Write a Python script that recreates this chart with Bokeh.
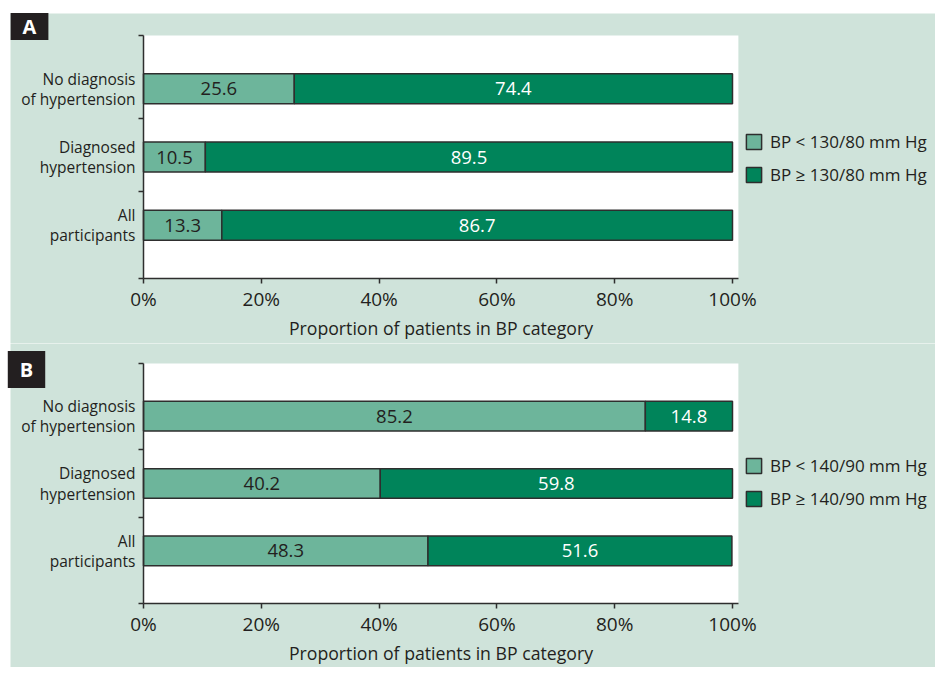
from bokeh.plotting import figure
from bokeh.models import (ColumnDataSource, Range1d, FixedTicker, Legend,
                          LegendItem, Label, LinearAxis, BoxAnnotation)
from bokeh.layouts import column
from bokeh.embed import file_html
from bokeh.resources import INLINE
from bokeh.core.properties import value

# ---- data ----
categories = ["No diagnosis\nof hypertension", "Diagnosed\nhypertension", "All\nparticipants"]
a_low = [25.6, 10.5, 13.3]
a_high = [74.4, 89.5, 86.7]
b_low = [85.2, 40.2, 48.3]
b_high = [14.8, 59.8, 51.6]
a_series = ["BP < 130/80 mm Hg", "BP \u2265 130/80 mm Hg"]
b_series = ["BP < 140/90 mm Hg", "BP \u2265 140/90 mm Hg"]
x_ticks = [0, 20, 40, 60, 80, 100]
x_tick_labels = ["0%", "20%", "40%", "60%", "80%", "100%"]
x_title = "Proportion of patients in BP category"

# ---- style / layout constants (pixels) ----
BG = "#cfe3da"
LIGHT = "#6db59b"
DARK = "#00845a"
EDGE = "#2e2e2e"
TXT = "#231f20"
FONT = "Open Sans"
W = 935
PX0, PX100 = 143, 732          # canvas x of 0 % and 100 %
X_MAX = 101.0                   # right edge of the white plot area
Y_MIN, Y_MAX = 0.22, 3.78       # vertical extent of the white plot area
XS = 100.0 / (PX100 - PX0)      # data units per pixel
X_START = -PX0 * XS
X_END = (W - PX0) * XS


def make_panel(letter, low, high, series, h, top_px, bot_px, box_c, box_pad,
               sep_ticks, bg_top, legend_vy):
    k = (Y_MAX - Y_MIN) / (bot_px - top_px)
    y_start = Y_MIN - (h - bot_px) * k
    y_end = Y_MAX + top_px * k

    def px_x(px):
        return X_START + px * XS

    def px_y(py):
        return y_end - py * k

    n = len(categories)
    ys = [n - i for i in range(n)]
    src = ColumnDataSource(dict(
        y=ys,
        l0=[0] * n,
        r0=low,
        l1=low,
        r1=[a + b for a, b in zip(low, high)],
        m0=[v / 2 for v in low],
        m1=[a + b / 2 for a, b in zip(low, high)],
        t0=[f"{v:.1f}" for v in low],
        t1=[f"{v:.1f}" for v in high],
    ))
    p = figure(width=W, height=h, x_range=Range1d(X_START, X_END),
               y_range=Range1d(y_start, y_end), output_backend="svg",
               toolbar_location=None, x_axis_type=None, y_axis_type=None,
               min_border=0, min_border_left=0, min_border_right=0,
               min_border_top=0, min_border_bottom=0,
               background_fill_color="white", border_fill_color="white",
               outline_line_color=None)
    p.title.visible = False
    p.grid.visible = False

    green = BoxAnnotation(left=px_x(10), right=X_END + 10, top=px_y(bg_top),
                          bottom=y_start - 10, fill_color=BG, fill_alpha=1,
                          line_alpha=0, level="underlay")
    white = BoxAnnotation(left=0, right=X_MAX, top=Y_MAX, bottom=Y_MIN,
                          fill_color="white", fill_alpha=1, line_alpha=0,
                          level="underlay")
    p.add_layout(green)
    p.add_layout(white)

    r_low = p.hbar(y="y", left="l0", right="r0", height=0.44, source=src,
                   fill_color=LIGHT, line_color=EDGE, line_width=1.5)
    r_high = p.hbar(y="y", left="l1", right="r1", height=0.44, source=src,
                    fill_color=DARK, line_color=EDGE, line_width=1.5)
    p.text(x="m0", y="y", text="t0", source=src, text_align="center",
           text_baseline="middle", text_font=value(FONT), text_font_size="18.5px",
           text_color=TXT)
    p.text(x="m1", y="y", text="t1", source=src, text_align="center",
           text_baseline="middle", text_font=value(FONT), text_font_size="18.5px",
           text_color="white")

    xa = LinearAxis(fixed_location=Y_MIN, bounds=(0, X_MAX),
                    ticker=FixedTicker(ticks=x_ticks))
    xa.major_label_overrides = {t: s for t, s in zip(x_ticks, x_tick_labels)}
    xa.major_tick_out = 5
    xa.major_tick_in = 0
    xa.minor_tick_out = 0
    xa.minor_tick_in = 0
    xa.axis_line_color = EDGE
    xa.axis_line_width = 1.5
    xa.major_tick_line_color = EDGE
    xa.major_tick_line_width = 1.5
    xa.major_label_text_font = FONT
    xa.major_label_text_font_size = "19px"
    xa.major_label_text_color = TXT
    xa.major_label_standoff = 2
    xa.axis_label = x_title
    xa.axis_label_text_font = FONT
    xa.axis_label_text_font_size = "17.7px"
    xa.axis_label_text_font_style = "normal"
    xa.axis_label_text_color = TXT
    xa.axis_label_standoff = 1
    p.add_layout(xa, "below")

    ya = LinearAxis(fixed_location=0, bounds=(Y_MIN, Y_MAX),
                    ticker=FixedTicker(ticks=ys, minor_ticks=sep_ticks))
    overrides = {}
    for yv, c in zip(ys, categories):
        overrides[yv] = c
        overrides[str(yv)] = c
    ya.major_label_overrides = overrides
    ya.major_tick_out = 0
    ya.major_tick_in = 0
    ya.minor_tick_out = 5
    ya.minor_tick_in = 0
    ya.minor_tick_line_color = EDGE
    ya.minor_tick_line_width = 1.5
    ya.axis_line_color = EDGE
    ya.axis_line_width = 1.5
    ya.major_label_text_font = FONT
    ya.major_label_text_font_size = "15.5px"
    ya.major_label_text_line_height = 0.93
    ya.major_label_text_color = TXT
    ya.major_label_standoff = 3
    p.add_layout(ya, "left")

    legend = Legend(items=[LegendItem(label=series[0], renderers=[r_low]),
                           LegendItem(label=series[1], renderers=[r_high])],
                    location=(744, legend_vy), background_fill_alpha=0,
                    border_line_alpha=0, glyph_width=19, glyph_height=19,
                    label_standoff=7, spacing=10, padding=0, margin=0,
                    label_text_font=FONT, label_text_font_size="17px",
                    label_text_color=TXT)
    p.add_layout(legend)

    lab = Label(x=px_x(box_c[0]), y=px_y(box_c[1]), text=letter,
                text_align="center", text_baseline="middle",
                text_font=FONT, text_font_size="20px", text_font_style="bold",
                text_color="white", background_fill_color=TXT,
                padding=box_pad)
    p.add_layout(lab)
    return p


pa = make_panel("A", a_low, a_high, a_series, 343, 35, 278, (29, 26), (12, 0),
                [Y_MIN, 1.5, 2.56, Y_MAX], 13, 157)
pb = make_panel("B", b_low, b_high, b_series, 324, 20, 260, (26, 26), (12, 5),
                [Y_MIN, 1.5, 2.5, Y_MAX], -5, 157)

layout = column(pa, pb, spacing=0)
open("out.html", "w").write(file_html(layout, INLINE))
